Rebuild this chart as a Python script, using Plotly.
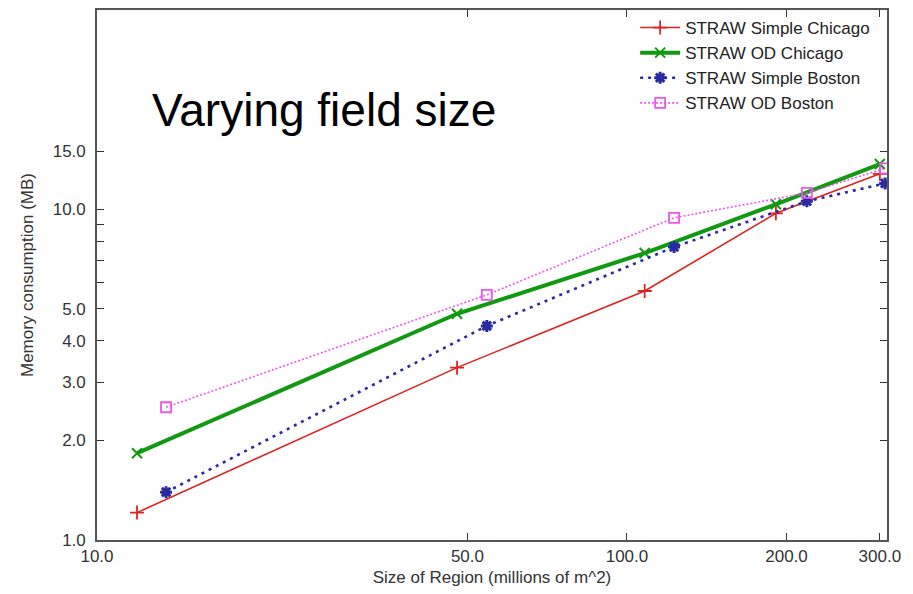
import plotly.graph_objects as go
import math

# ---- data ----
x_chicago = [11.9, 47.8, 108, 191, 300]
simple_chicago = [1.21, 3.32, 5.66, 9.72, 12.8]
od_chicago = [1.83, 4.83, 7.37, 10.35, 13.7]

x_boston = [13.5, 54.4, 122.7, 218.5, 307]
simple_boston = [1.395, 4.44, 7.69, 10.57, 11.97]
od_boston = [2.52, 5.51, 9.42, 11.2, 13.3]

x_tickvals = [10, 50, 100, 200, 300]
x_ticktext = ["10.0", "50.0", "100.0", "200.0", "300.0"]
y_tickvals = [1, 2, 3, 4, 5, 6, 7, 8, 9, 10, 15]
y_ticktext = ["1.0", "2.0", "3.0", "4.0", "5.0", "", "", "", "", "10.0", "15.0"]

series_names = ["STRAW Simple Chicago", "STRAW OD Chicago",
                "STRAW Simple Boston", "STRAW OD Boston"]

FONT = "Liberation Sans, Arial, sans-serif"

fig = go.Figure()

fig.add_trace(go.Scatter(
    x=x_chicago, y=simple_chicago, name=series_names[0], mode="lines+markers",
    line=dict(color="#dd2222", width=1.6),
    marker=dict(symbol="cross-thin-open", size=10, line=dict(color="#dd2222", width=1.8)),
))
fig.add_trace(go.Scatter(
    x=x_chicago, y=od_chicago, name=series_names[1], mode="lines+markers",
    line=dict(color="#129912", width=4),
    marker=dict(symbol="x-thin-open", size=10, line=dict(color="#44cc44", width=2)),
))
fig.add_trace(go.Scatter(
    x=x_boston, y=simple_boston, name=series_names[2], mode="lines+markers",
    line=dict(color="#2a2aa0", width=2.6, dash="3px,5px"),
    marker=dict(symbol="asterisk-open", size=10, line=dict(color="#1010dd", width=3)),
))
fig.add_trace(go.Scatter(
    x=x_boston, y=od_boston, name=series_names[3], mode="lines+markers",
    line=dict(color="#ee55ee", width=1.6, dash="2px,2px"),
    marker=dict(symbol="square-open", size=10, line=dict(color="#cc33cc", width=1.8)),
))

axis_common = dict(
    type="log",
    showline=True, linecolor="#555555", linewidth=1.6,
    mirror="ticks", ticks="inside", ticklen=7, tickwidth=1.3, tickcolor="#333333",
    showgrid=False, zeroline=False,
    tickfont=dict(family=FONT, size=17, color="#333333"),
)

fig.update_xaxes(
    **axis_common,
    range=[1, math.log10(309.5)],
    tickvals=x_tickvals, ticktext=x_ticktext,
    title=dict(text="Size of Region (millions of m^2)",
               font=dict(family=FONT, size=17, color="#333333"), standoff=6),
)
fig.update_yaxes(
    **axis_common,
    range=[0, 1.6024],
    tickvals=y_tickvals, ticktext=y_ticktext,
    ticklabelstandoff=6,
    title=dict(text="Memory consumption (MB)",
               font=dict(family=FONT, size=17, color="#333333"), standoff=15),
)

fig.add_annotation(
    text="Varying field size", xref="paper", yref="paper",
    x=0.0671, y=0.812, xanchor="left", yanchor="middle", showarrow=False,
    font=dict(family=FONT, size=46, color="#000000"),
)

fig.update_layout(
    width=913, height=594,
    margin=dict(l=89, r=34, t=0, b=62),
    paper_bgcolor="white", plot_bgcolor="white",
    font=dict(family=FONT, color="#333333"),
    legend=dict(
        x=0.985, y=1.0, xanchor="right", yanchor="top",
        bgcolor="rgba(0,0,0,0)", font=dict(family=FONT, size=17, color="#222222"),
        tracegroupgap=0, itemwidth=40,
    ),
)

fig.write_html("out.html")
